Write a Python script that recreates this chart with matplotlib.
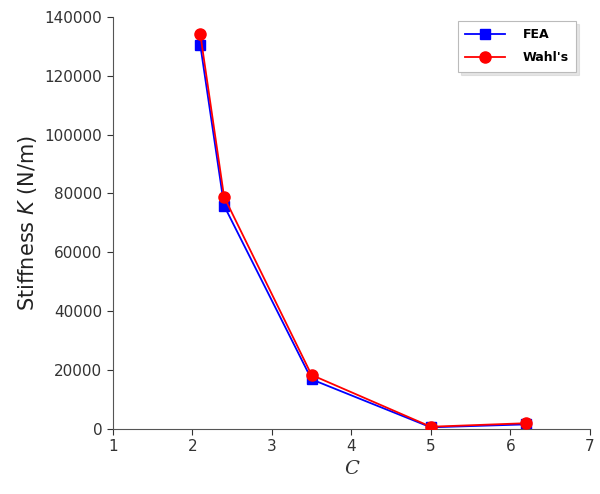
import numpy as np
import matplotlib
matplotlib.use("Agg")
import matplotlib.pyplot as plt

# spring index C and stiffness values
c_values = [2.1, 2.4, 3.5, 5.0, 6.2]
fea_stiffness = [130500, 75800, 16800, 500, 1500]
wahl_stiffness = [134200, 78800, 18300, 700, 1900]

fig = plt.figure(figsize=(6, 4.94), dpi=100)
ax = fig.add_axes([0.188, 0.132, 0.795, 0.834])

ax.plot(c_values, wahl_stiffness, color="red", marker="o", markersize=8,
        linewidth=1.3, label="Wahl's", zorder=3)
ax.plot(c_values, fea_stiffness, color="blue", marker="s", markersize=7,
        linewidth=1.3, label="FEA", zorder=2)

ax.set_xlim(1, 7)
ax.set_ylim(0, 140000)
ax.set_xticks(range(1, 8))
ax.set_yticks(np.arange(0, 140001, 20000))
ax.tick_params(direction="out", length=4, labelsize=11, colors="#333333")

for side in ["top", "right"]:
    ax.spines[side].set_visible(False)
for side in ["left", "bottom"]:
    ax.spines[side].set_color("#555555")

ax.set_ylabel(r"Stiffness $K$ (N/m)", fontsize=15, color="#222222")
ax.set_xlabel("C", fontsize=14, family="serif", style="italic", color="#333333")

handles, labels = ax.get_legend_handles_labels()
leg = ax.legend(handles[::-1], labels[::-1], loc="upper right",
                bbox_to_anchor=(0.985, 1.005), prop={"weight": "bold", "size": 9},
                handlelength=3.2, handletextpad=1.4, fancybox=False,
                shadow={"ox": 2, "oy": -2, "color": "#cccccc"},
                edgecolor="#bbbbbb", borderpad=0.6, labelspacing=0.8)
leg.get_frame().set_linewidth(0.8)

fig.savefig("out.png", dpi=100)
